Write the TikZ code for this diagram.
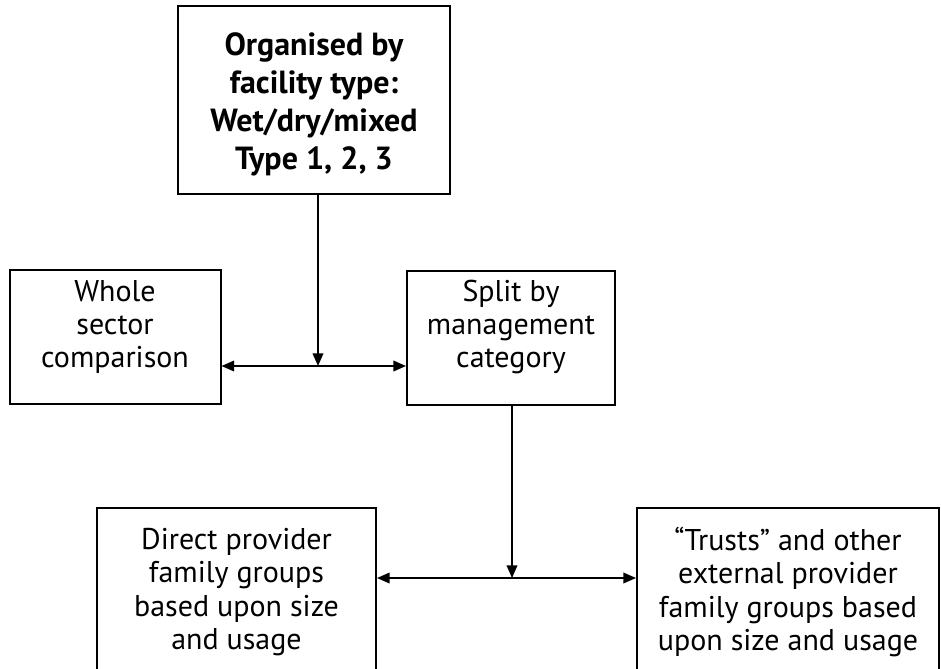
\documentclass[tikz,border=0pt]{standalone}
\usepackage{fontspec}
\setmainfont{PT Sans}
\usetikzlibrary{arrows.meta}

\tikzset{
	box/.style={draw, line width=1.5pt, inner sep=0pt},
	txt/.style={align=center, font=\fontsize{22.5}{25}\selectfont},
	link/.style={line width=1.2pt, -{Triangle[length=9.5pt,width=8pt]}},
	twolink/.style={line width=1.2pt, {Triangle[length=9.5pt,width=8pt]}-{Triangle[length=9.5pt,width=8pt]}}
}

\begin{document}
\begin{tikzpicture}[x=0.75pt, y=-0.75pt]

		      		\useasboundingbox (0,0) rectangle (941,668);
		      		\clip (0,0) rectangle (941,668);

		      		\node[box, minimum width=204pt, minimum height=141pt] (facility) at (314,100) {};
		      		\node[box, minimum width=158.25pt, minimum height=100.5pt] (whole) at (115,336.5) {};
		      		\node[box, minimum width=156pt, minimum height=100.5pt] (split) at (511,337.5) {};
		      		\node[box, minimum width=209.25pt, minimum height=159.75pt] (direct) at (236.5,614) {};
		      		\node[box, minimum width=226.5pt, minimum height=159.75pt] (trusts) at (788,614) {};

		      		\node[txt, font=\fontsize{24}{28.5}\selectfont\bfseries] (facilitytxt) at (314,104) {Organised by\\facility type:\\Wet/dry/mixed\\Type 1, 2, 3};
		      		\node[txt] (wholetxt) at (115,327) {Whole\\sector\\comparison};
		      		\node[txt] (splittxt) at (511,327) {Split by\\management\\category};
		      		\node[txt] (directtxt) at (236.5,592) {Direct provider\\family groups\\based upon size\\and usage};
		      		\node[txt] (truststxt) at (788,592) {``Trusts'' and other\\external provider\\family groups based\\upon size and usage};

		      		\coordinate (upper) at (318,366);
		      		\coordinate (lower) at (512,578);

		      		\draw[link] (facility.south -| upper) -- (upper);
		      		\draw[twolink] (whole.east |- upper) -- (split.west |- upper);
		      		\draw[link] (split.south -| lower) -- (lower);
		      		\draw[twolink] (direct.east |- lower) -- (trusts.west |- lower);

		      	\end{tikzpicture}
\end{document}
